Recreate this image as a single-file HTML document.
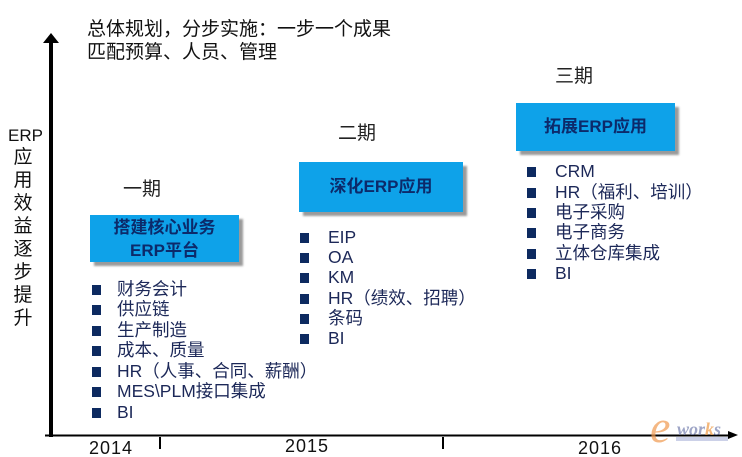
<!DOCTYPE html>
<html><head><meta charset="utf-8">
<style>
html,body{margin:0;padding:0;background:#fff;}
#c{position:relative;width:742px;height:457px;overflow:hidden;background:#fff;font-family:"Liberation Sans","Noto Sans CJK SC",sans-serif;}
.t{position:absolute;white-space:nowrap;}
.title{font-size:19px;line-height:19px;color:#111;}
.phase{font-size:19px;line-height:19px;color:#222;}
.box{position:absolute;background:#0ea2e9;box-shadow:4px 4px 2px #9a9a9a;color:#0c2a6a;font-weight:bold;font-size:17px;line-height:23px;text-align:center;}
.li{position:absolute;font-size:17.5px;line-height:17px;color:#1c2858;white-space:nowrap;}
.sq{position:absolute;width:9px;height:10px;background:#0d2a60;}
.yr{position:absolute;font-size:18px;line-height:18px;color:#111;letter-spacing:1px;}
.vl{position:absolute;left:13px;width:20px;text-align:center;font-size:19px;line-height:19px;color:#111;}
</style></head><body>
<div id="c">
<svg width="742" height="457" style="position:absolute;left:0;top:0">
  <rect x="676" y="437" width="52" height="4" fill="#aab3d8" opacity="0.6"/>
  <line x1="51" y1="40" x2="51" y2="437" stroke="#000" stroke-width="4"/>
  <polygon points="51,33 43,43 59,43" fill="#000"/>
  <line x1="45" y1="435.5" x2="730" y2="435.5" stroke="#000" stroke-width="2"/>
  <polygon points="738,435 728,431 728,439" fill="#000"/>
  <line x1="160" y1="437" x2="160" y2="449" stroke="#000" stroke-width="2"/>
  <line x1="443" y1="437" x2="443" y2="449" stroke="#000" stroke-width="2"/>
</svg>

<div class="t title" style="left:87px;top:20px;">总体规划，分步实施：一步一个成果</div>
<div class="t title" style="left:87px;top:43px;">匹配预算、人员、管理</div>

<div class="vl" style="top:126px;font-size:17px;left:8px;width:30px;">ERP</div>
<div class="vl" style="top:148px;">应</div>
<div class="vl" style="top:171px;">用</div>
<div class="vl" style="top:194px;">效</div>
<div class="vl" style="top:217px;">益</div>
<div class="vl" style="top:240px;">逐</div>
<div class="vl" style="top:263px;">步</div>
<div class="vl" style="top:286px;">提</div>
<div class="vl" style="top:309px;">升</div>

<div class="t phase" style="left:123px;top:180px;">一期</div>
<div class="t phase" style="left:338px;top:124px;">二期</div>
<div class="t phase" style="left:555px;top:67px;">三期</div>

<div class="box" style="left:90px;top:215px;width:149px;height:47px;padding-top:1px;box-sizing:border-box;">搭建核心业务<br>ERP平台</div>
<div class="box" style="left:299px;top:162px;width:164px;height:50px;line-height:50px;">深化ERP应用</div>
<div class="box" style="left:516px;top:103px;width:159px;height:48px;line-height:48px;">拓展ERP应用</div>

<!-- list 1 -->
<div class="sq" style="left:92px;top:285px;"></div><div class="li" style="left:117px;top:281px;">财务会计</div>
<div class="sq" style="left:92px;top:305px;"></div><div class="li" style="left:117px;top:301px;">供应链</div>
<div class="sq" style="left:92px;top:326px;"></div><div class="li" style="left:117px;top:322px;">生产制造</div>
<div class="sq" style="left:92px;top:346px;"></div><div class="li" style="left:117px;top:342px;">成本、质量</div>
<div class="sq" style="left:92px;top:367px;"></div><div class="li" style="left:117px;top:363px;">HR（人事、合同、薪酬）</div>
<div class="sq" style="left:92px;top:387px;"></div><div class="li" style="left:117px;top:383px;">MES\PLM接口集成</div>
<div class="sq" style="left:92px;top:408px;"></div><div class="li" style="left:117px;top:404px;">BI</div>

<!-- list 2 -->
<div class="sq" style="left:300px;top:233px;"></div><div class="li" style="left:328px;top:229px;">EIP</div>
<div class="sq" style="left:300px;top:253px;"></div><div class="li" style="left:328px;top:249px;">OA</div>
<div class="sq" style="left:300px;top:273px;"></div><div class="li" style="left:328px;top:269px;">KM</div>
<div class="sq" style="left:300px;top:294px;"></div><div class="li" style="left:328px;top:290px;">HR（绩效、招聘）</div>
<div class="sq" style="left:300px;top:314px;"></div><div class="li" style="left:328px;top:310px;">条码</div>
<div class="sq" style="left:300px;top:334px;"></div><div class="li" style="left:328px;top:330px;">BI</div>

<!-- list 3 -->
<div class="sq" style="left:527px;top:167px;"></div><div class="li" style="left:555px;top:163px;">CRM</div>
<div class="sq" style="left:527px;top:188px;"></div><div class="li" style="left:555px;top:184px;">HR（福利、培训）</div>
<div class="sq" style="left:527px;top:208px;"></div><div class="li" style="left:555px;top:204px;">电子采购</div>
<div class="sq" style="left:527px;top:228px;"></div><div class="li" style="left:555px;top:224px;">电子商务</div>
<div class="sq" style="left:527px;top:249px;"></div><div class="li" style="left:555px;top:245px;">立体仓库集成</div>
<div class="sq" style="left:527px;top:269px;"></div><div class="li" style="left:555px;top:265px;">BI</div>

<div class="yr" style="left:89px;top:439px;">2014</div>
<div class="yr" style="left:285px;top:437px;">2015</div>
<div class="yr" style="left:578px;top:439px;">2016</div>

<div class="t" style="left:650px;top:404px;font-family:'Liberation Serif',serif;font-style:italic;font-size:46px;line-height:46px;color:#f09a50;opacity:0.7;">e</div>
<div class="t" style="left:677px;top:420px;font-family:'Liberation Serif',serif;font-style:italic;font-weight:bold;font-size:18px;line-height:18px;color:#7e88b4;opacity:0.75;">wor<span style="color:#f0a050">k</span>s</div>
</div>
</body></html>
